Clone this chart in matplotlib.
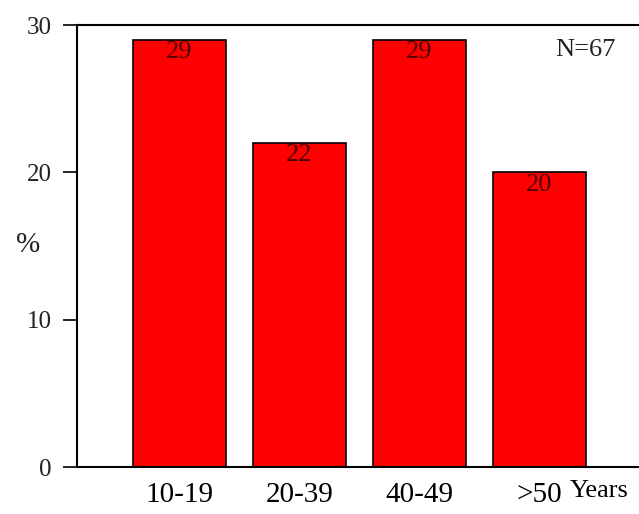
import matplotlib
matplotlib.use("Agg")
import matplotlib.pyplot as plt

categories = ["10-19", "20-39", "40-49", ">50"]
values = [29, 22, 29, 20]
bar_labels = ["29", "22", "29", "20"]
yticks = [0, 10, 20, 30]

plt.rcParams['font.family'] = ['Liberation Serif', 'DejaVu Serif']

fig = plt.figure(figsize=(6.39, 5.14), dpi=100)
ax = fig.add_axes([77/639, 47/514, 1 - 77/639, (467-25)/514])

x = list(range(len(categories)))
ax.bar(x, values, width=0.77, color='#ff0000', edgecolor='black', linewidth=1.2)
for xi, v, lab in zip(x, values, bar_labels):
    ax.text(xi, v - 0.1, lab, ha='center', va='top', fontsize=19, color='#500000')

ax.set_xlim(-0.854, 3.83)
ax.set_ylim(0, 30)
ax.set_yticks(yticks)
ax.set_yticklabels([str(t) for t in yticks], fontsize=18, color='#222222')
ax.set_xticks(x)
ax.set_xticklabels(categories, fontsize=21)
ax.tick_params(axis='x', length=0, pad=11)
ax.tick_params(axis='y', length=10, width=1.2, direction='out', pad=8)

ax.spines['right'].set_visible(False)
for s in ['left', 'top', 'bottom']:
    ax.spines[s].set_linewidth(1.5)

fig.text(28/639, 1 - 245/514, '%', fontsize=21, ha='center', va='center', color='#222222')
fig.text(570/639, 1 - 491/514, 'Years', fontsize=19, ha='left', va='center')
ax.text(3.13, 28.3, 'N=67', fontsize=19, ha='left', va='center', color='#222222')

fig.savefig('out.png', dpi=100)
